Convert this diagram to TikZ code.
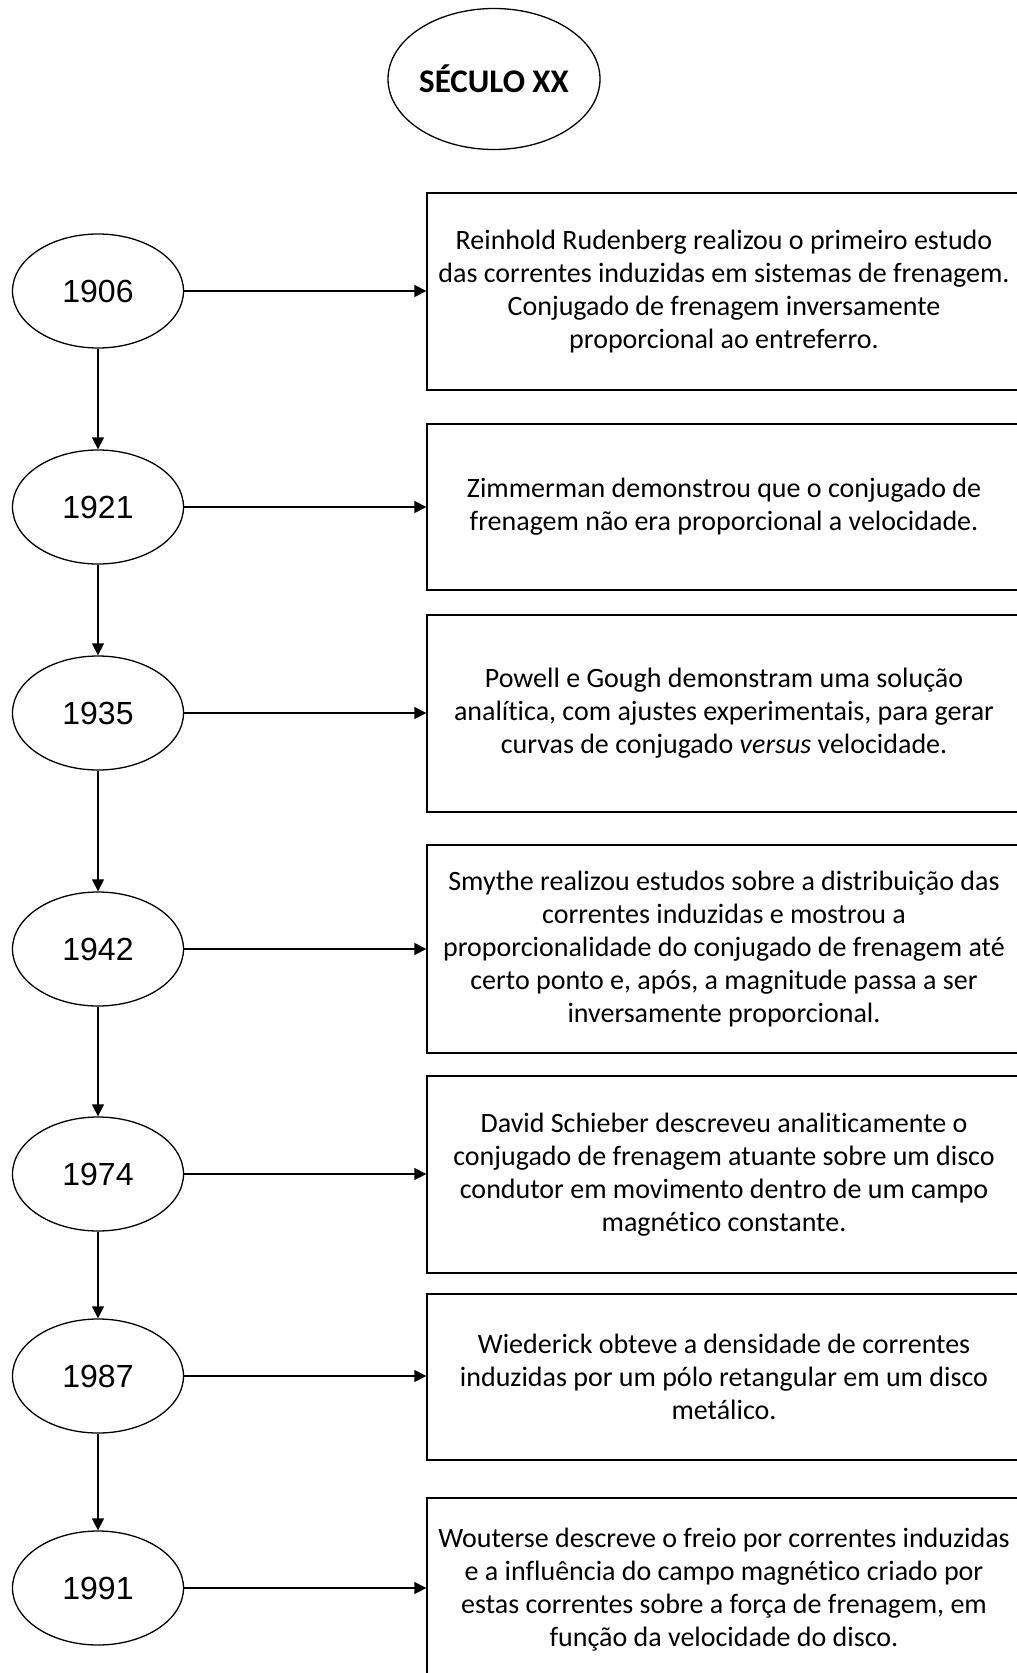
\documentclass[tikz,border=0pt]{standalone}
\usepackage{fontspec}
\setmainfont[Ligatures={NoCommon}]{Carlito}
\newfontfamily\yearfont{Liberation Sans}
\usetikzlibrary{arrows.meta, positioning, shapes.geometric}

\begin{document}
\begin{tikzpicture}[x=1pt, y=-1pt,
  year/.style={draw, ellipse, line width=1.3pt, inner sep=0pt, minimum width=171pt, minimum height=114pt, font=\yearfont\fontsize{32}{38}\selectfont},
  title/.style={year, minimum width=212pt, minimum height=141pt, font=\bfseries\fontsize{33}{39}\selectfont},
  event/.style={draw, rectangle, line width=1.3pt, inner sep=0pt, minimum width=594pt, align=center, font=\fontsize{28}{33}\selectfont},
  arr/.style={-{Triangle[length=12pt, width=12pt]}, line width=1.3pt}]
\useasboundingbox (0,0) rectangle (1017,1673);
\clip (0,0) rectangle (1017,1673);
\node[title] (sec) at (494, 79) {SÉCULO XX};
\node[year] (y1906) at (98, 291) {1906};
\node[year] (y1921) at (98, 507) {1921};
\node[year] (y1935) at (98, 713) {1935};
\node[year] (y1942) at (98, 949) {1942};
\node[year] (y1974) at (98, 1174) {1974};
\node[year] (y1987) at (98, 1376) {1987};
\node[year] (y1991) at (98, 1588) {1991};
\node[event, minimum height=197pt] (e1906) at (724, 291.5) {Reinhold Rudenberg realizou o primeiro estudo\\ das correntes induzidas em sistemas de frenagem.\\ Conjugado de frenagem inversamente\\ proporcional ao entreferro.};
\node[event, minimum height=166pt] (e1921) at (724, 507) {Zimmerman demonstrou que o conjugado de\\ frenagem não era proporcional a velocidade.};
\node[event, minimum height=197pt] (e1935) at (724, 713.5) {Powell e Gough demonstram uma solução\\ analítica, com ajustes experimentais, para gerar\\ curvas de conjugado \textit{versus} velocidade.};
\node[event, minimum height=208pt] (e1942) at (724, 949) {Smythe realizou estudos sobre a distribuição das\\ correntes induzidas e mostrou a\\ proporcionalidade do conjugado de frenagem até\\ certo ponto e, após, a magnitude passa a ser\\ inversamente proporcional.};
\node[event, minimum height=197pt] (e1974) at (724, 1174.5) {David Schieber descreveu analiticamente o\\ conjugado de frenagem atuante sobre um disco\\ condutor em movimento dentro de um campo\\ magnético constante.};
\node[event, minimum height=166pt] (e1987) at (724, 1377) {Wiederick obteve a densidade de correntes\\ induzidas por um pólo retangular em um disco\\ metálico.};
\node[event, minimum height=184pt] (e1991) at (724, 1590) {Wouterse descreve o freio por correntes induzidas\\ e a influência do campo magnético criado por\\ estas correntes sobre a força de frenagem, em\\ função da velocidade do disco.};
\draw[arr] (y1906) -- (y1921); \draw[arr] (y1921) -- (y1935); \draw[arr] (y1935) -- (y1942);
\draw[arr] (y1942) -- (y1974); \draw[arr] (y1974) -- (y1987); \draw[arr] (y1987) -- (y1991);
\draw[arr] (y1906.east) -- (y1906.east -| e1906.west); \draw[arr] (y1921.east) -- (y1921.east -| e1921.west);
\draw[arr] (y1935.east) -- (y1935.east -| e1935.west); \draw[arr] (y1942.east) -- (y1942.east -| e1942.west);
\draw[arr] (y1974.east) -- (y1974.east -| e1974.west); \draw[arr] (y1987.east) -- (y1987.east -| e1987.west);
\draw[arr] (y1991.east) -- (y1991.east -| e1991.west);
\end{tikzpicture}
\end{document}
